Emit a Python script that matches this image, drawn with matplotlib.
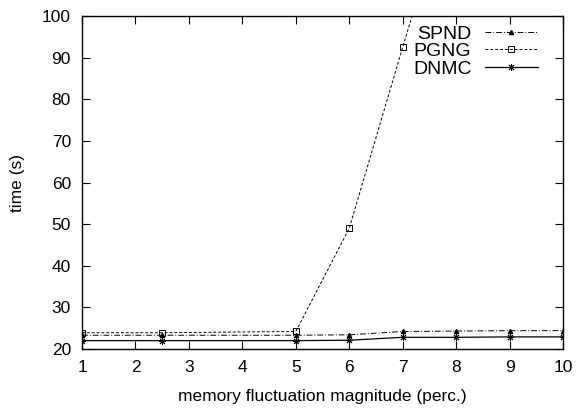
import matplotlib
matplotlib.use("Agg")
import matplotlib.pyplot as plt

plt.rcParams['font.family'] = ['Liberation Sans', 'DejaVu Sans']

# data
x = [1, 2.5, 5, 6, 7, 8, 9, 10]
spnd = [23.3, 23.3, 23.3, 23.4, 24.2, 24.3, 24.4, 24.4]
pgng = [23.9, 23.9, 24.2, 49.0, 92.5, 135.0, 175.0, 215.0]
dnmc = [22.0, 22.0, 22.0, 22.1, 22.8, 22.8, 22.9, 22.9]

xticks = list(range(1, 11))
yticks = list(range(20, 101, 10))

fig = plt.figure(figsize=(5.83, 4.12), dpi=100)
ax = fig.add_axes([0.1407, 0.153, 0.825, 0.808])

ax.plot(x, spnd, color='black', lw=0.7, ls=(0, (6, 2, 1, 2)),
        marker='^', ms=3, mfc='black', label='SPND')
ax.plot(x, pgng, color='black', lw=0.7, ls=(0, (3, 2)),
        marker='s', ms=4.5, mfc='none', mew=0.7, label='PGNG')
ax.plot(x, dnmc, color='black', lw=0.9, ls='-',
        marker=(8, 2, 0), ms=5, mew=0.7, label='DNMC')

ax.set_xlim(1, 10)
ax.set_ylim(20, 100)
ax.set_xticks(xticks)
ax.set_yticks(yticks)
ax.tick_params(direction='in', top=True, right=True, length=6, width=0.8,
               labelsize=12.5, pad=8)
for s in ax.spines.values():
    s.set_linewidth(1.0)

ax.set_xlabel('memory fluctuation magnitude (perc.)', fontsize=12.5, labelpad=10)
ax.set_ylabel('time (s)', fontsize=12.5, labelpad=12)

leg = ax.legend(loc='upper right', bbox_to_anchor=(0.948, 0.973),
                frameon=False, markerfirst=False,
                fontsize=14, handlelength=2.75, labelspacing=0.0,
                borderaxespad=0, borderpad=0, handletextpad=0.67)
for t in leg.get_texts():
    t.set_ha('right')
    t.set_position((0, 0))

fig.savefig('out.png', dpi=100)
